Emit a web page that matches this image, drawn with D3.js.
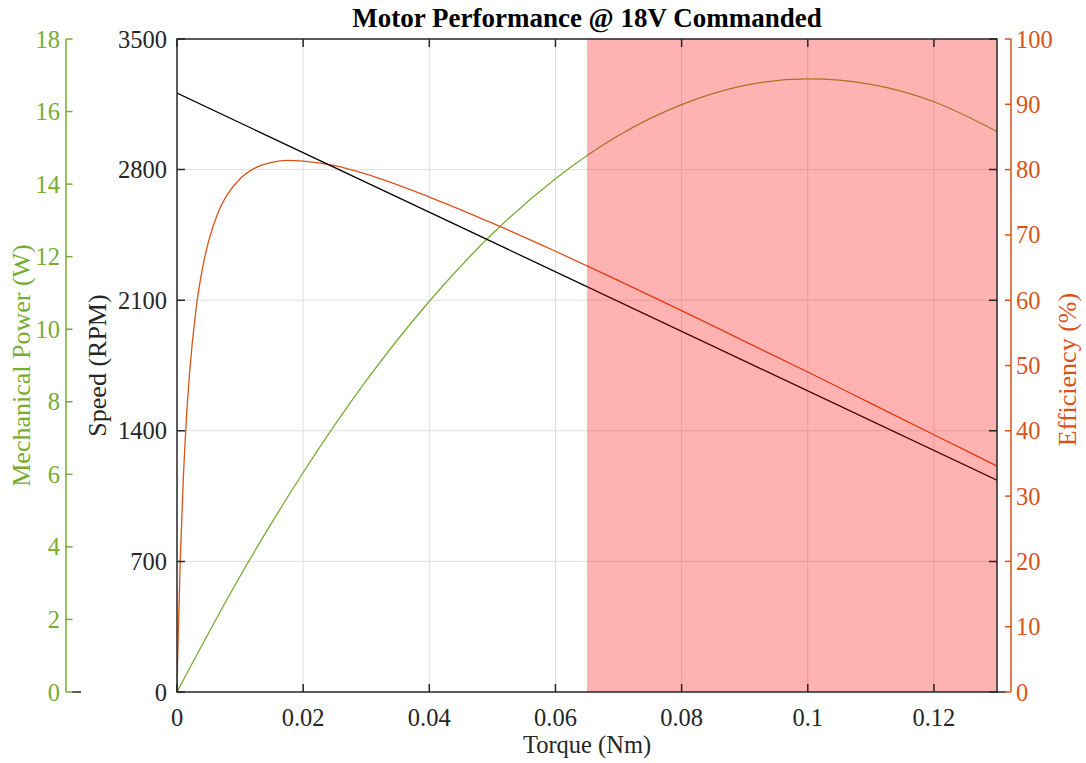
<!DOCTYPE html>
<html>
<head>
<meta charset="utf-8">
<script src="https://cdn.jsdelivr.net/npm/d3@7"></script>
<style>
    body { margin: 0; background: #fff; }
    text { font-family: "Liberation Serif", "Times New Roman", serif; }
</style>
</head>
<body>
<div id="chart"></div>
<script>
// values
var xTicks = [0, 0.02, 0.04, 0.06, 0.08, 0.1, 0.12];
var speedTicks = [0, 700, 1400, 2100, 2800, 3500];
var powerTicks = [0, 2, 4, 6, 8, 10, 12, 14, 16, 18];
var effTicks = [0, 10, 20, 30, 40, 50, 60, 70, 80, 90, 100];

var speedTorque = [0, 0.13];
var speedRpm = [3210, 1135];

var powerTorque = [0, 0.01, 0.02, 0.03, 0.04, 0.05, 0.06, 0.07, 0.08, 0.09, 0.10, 0.11, 0.12, 0.13];
var powerW = [0, 3.19, 6.05, 8.58, 10.77, 12.63, 14.15, 15.34, 16.19, 16.72, 16.90, 16.75, 16.27, 15.45];

var effTorque = [0, 0.0001, 0.0002, 0.0005, 0.001, 0.0015, 0.002, 0.003, 0.004, 0.005, 0.0065, 0.008,
    0.01, 0.0125, 0.015, 0.0175, 0.02, 0.025, 0.03, 0.04, 0.05, 0.06, 0.07, 0.08, 0.09, 0.10, 0.11, 0.12, 0.13];
var effPct = [0, 4.7, 8.9, 19.7, 32.7, 42.0, 48.9, 58.5, 64.7, 69.0, 73.4, 76.2,
    78.6, 80.3, 81.1, 81.4, 81.3, 80.6, 79.3, 75.8, 71.8, 67.5, 63.0, 58.4, 53.7, 49.0, 44.2, 39.4, 34.6];

// overloaded torque range (shaded)
var shadeRange = [0.065, 0.13];

var green = "#77AC30",
    orange = "#D95319",
    axisCol = "#262626",
    gridCol = "#dfdfdf";

var svg = d3.select("#chart")
    .append("svg")
    .attr("width", 1086)
    .attr("height", 763);

// note: "top" is taken by window.top, so use pTop/pBottom
var pLeft = 177, pRight = 997, pTop = 39, pBottom = 692;

var x = d3.scaleLinear().domain([0, 0.13]).range([pLeft, pRight]),
    ySpeed = d3.scaleLinear().domain([0, 3500]).range([pBottom, pTop]),
    yPower = d3.scaleLinear().domain([0, 18]).range([pBottom, pTop]),
    yEff = d3.scaleLinear().domain([0, 100]).range([pBottom, pTop]);

svg.append("defs").append("clipPath")
    .attr("id", "clip")
    .append("rect")
    .attr("x", pLeft)
    .attr("y", pTop)
    .attr("width", pRight - pLeft)
    .attr("height", pBottom - pTop);

// grid
var grid = svg.append("g").attr("class", "grid");

grid.selectAll(".vgrid")
    .data(xTicks.slice(1))
    .enter().append("line")
    .attr("x1", function(d) { return x(d); })
    .attr("x2", function(d) { return x(d); })
    .attr("y1", pTop)
    .attr("y2", pBottom)
    .attr("stroke", gridCol)
    .attr("stroke-width", 1);

grid.selectAll(".hgrid")
    .data(speedTicks.slice(1, -1))
    .enter().append("line")
    .attr("x1", pLeft)
    .attr("x2", pRight)
    .attr("y1", function(d) { return ySpeed(d); })
    .attr("y2", function(d) { return ySpeed(d); })
    .attr("stroke", gridCol)
    .attr("stroke-width", 1);

// curves
var plot = svg.append("g").attr("clip-path", "url(#clip)");

var speedLine = d3.line()
    .x(function(d, i) { return x(speedTorque[i]); })
    .y(function(d) { return ySpeed(d); });

var powerLine = d3.line()
    .curve(d3.curveMonotoneX)
    .x(function(d, i) { return x(powerTorque[i]); })
    .y(function(d) { return yPower(d); });

var effLine = d3.line()
    .curve(d3.curveMonotoneX)
    .x(function(d, i) { return x(effTorque[i]); })
    .y(function(d) { return yEff(d); });

plot.append("path")
    .datum(powerW)
    .attr("d", powerLine)
    .attr("fill", "none")
    .attr("stroke", green)
    .attr("stroke-width", 1.3);

plot.append("path")
    .datum(effPct)
    .attr("d", effLine)
    .attr("fill", "none")
    .attr("stroke", orange)
    .attr("stroke-width", 1.3);

plot.append("path")
    .datum(speedRpm)
    .attr("d", speedLine)
    .attr("fill", "none")
    .attr("stroke", "#000")
    .attr("stroke-width", 1.3);

// shaded region sits on top of the curves
plot.append("rect")
    .attr("x", x(shadeRange[0]))
    .attr("y", pTop)
    .attr("width", x(shadeRange[1]) - x(shadeRange[0]))
    .attr("height", pBottom - pTop)
    .attr("fill", "#ff0000")
    .attr("fill-opacity", 0.3);

// box + inner ticks
var box = svg.append("g");
var tickLen = 8;

box.selectAll(".xt")
    .data(xTicks)
    .enter().append("path")
    .attr("d", function(d) {
        return "M" + x(d) + "," + pBottom + "v" + (-tickLen) + "M" + x(d) + "," + pTop + "v" + tickLen;
    })
    .attr("stroke", axisCol)
    .attr("stroke-width", 1.5);

box.selectAll(".yt")
    .data(speedTicks)
    .enter().append("path")
    .attr("d", function(d) {
        return "M" + pLeft + "," + ySpeed(d) + "h" + tickLen + "M" + pRight + "," + ySpeed(d) + "h" + (-tickLen);
    })
    .attr("stroke", axisCol)
    .attr("stroke-width", 1.5);

box.append("rect")
    .attr("x", pLeft)
    .attr("y", pTop)
    .attr("width", pRight - pLeft)
    .attr("height", pBottom - pTop)
    .attr("fill", "none")
    .attr("stroke", axisCol)
    .attr("stroke-width", 1.5);

box.selectAll(".xl")
    .data(xTicks)
    .enter().append("text")
    .attr("x", function(d) { return x(d); })
    .attr("y", 726)
    .attr("text-anchor", "middle")
    .attr("fill", axisCol)
    .style("font-size", "24.5px")
    .text(d3.format("~g"));

box.selectAll(".yl")
    .data(speedTicks)
    .enter().append("text")
    .attr("x", 167)
    .attr("y", function(d) { return ySpeed(d); })
    .attr("dy", "0.35em")
    .attr("text-anchor", "end")
    .attr("fill", axisCol)
    .style("font-size", "24.5px")
    .text(function(d) { return d; });

// mechanical power axis (far left)
var pAx = svg.append("g");
var pX = 66;

pAx.append("line")
    .attr("x1", 72).attr("x2", 81)
    .attr("y1", pBottom).attr("y2", pBottom)
    .attr("stroke", axisCol)
    .attr("stroke-width", 1.5);

pAx.append("line")
    .attr("x1", pX).attr("x2", pX)
    .attr("y1", pTop).attr("y2", pBottom)
    .attr("stroke", green)
    .attr("stroke-width", 1.5);

pAx.selectAll(".pt")
    .data(powerTicks)
    .enter().append("line")
    .attr("x1", pX).attr("x2", pX + 6.5)
    .attr("y1", function(d) { return yPower(d); })
    .attr("y2", function(d) { return yPower(d); })
    .attr("stroke", green)
    .attr("stroke-width", 1.5);

pAx.selectAll(".pl")
    .data(powerTicks)
    .enter().append("text")
    .attr("x", 60)
    .attr("y", function(d) { return yPower(d); })
    .attr("dy", "0.35em")
    .attr("text-anchor", "end")
    .attr("fill", green)
    .style("font-size", "24.5px")
    .text(function(d) { return d; });

// efficiency axis (right)
var eAx = svg.append("g");
var eX = 1011;

eAx.append("line")
    .attr("x1", pRight).attr("x2", 1006)
    .attr("y1", pBottom).attr("y2", pBottom)
    .attr("stroke", axisCol)
    .attr("stroke-width", 1.5);

eAx.append("line")
    .attr("x1", eX).attr("x2", eX)
    .attr("y1", pTop).attr("y2", pBottom)
    .attr("stroke", orange)
    .attr("stroke-width", 1.5);

eAx.selectAll(".et")
    .data(effTicks)
    .enter().append("line")
    .attr("x1", eX - 6).attr("x2", eX)
    .attr("y1", function(d) { return yEff(d); })
    .attr("y2", function(d) { return yEff(d); })
    .attr("stroke", orange)
    .attr("stroke-width", 1.5);

eAx.selectAll(".el")
    .data(effTicks)
    .enter().append("text")
    .attr("x", 1016)
    .attr("y", function(d) { return yEff(d); })
    .attr("dy", "0.35em")
    .attr("text-anchor", "start")
    .attr("fill", orange)
    .style("font-size", "24.5px")
    .text(function(d) { return d; });

// labels
var midY = (pTop + pBottom) / 2;

svg.append("text")
    .attr("x", (pLeft + pRight) / 2)
    .attr("y", 27)
    .attr("text-anchor", "middle")
    .style("font-size", "27px")
    .style("font-weight", "bold")
    .attr("fill", "#000")
    .text("Motor Performance @ 18V Commanded");

svg.append("text")
    .attr("x", (pLeft + pRight) / 2)
    .attr("y", 753)
    .attr("text-anchor", "middle")
    .style("font-size", "24.5px")
    .attr("fill", axisCol)
    .text("Torque (Nm)");

svg.append("text")
    .attr("transform", "translate(106," + midY + ") rotate(-90)")
    .attr("text-anchor", "middle")
    .style("font-size", "26px")
    .attr("fill", axisCol)
    .text("Speed (RPM)");

svg.append("text")
    .attr("transform", "translate(30," + midY + ") rotate(-90)")
    .attr("text-anchor", "middle")
    .style("font-size", "26px")
    .attr("fill", green)
    .text("Mechanical Power (W)");

svg.append("text")
    .attr("transform", "translate(1076," + (midY + 4) + ") rotate(-90)")
    .attr("text-anchor", "middle")
    .style("font-size", "26px")
    .attr("fill", orange)
    .text("Efficiency (%)");
</script>
</body>
</html>
